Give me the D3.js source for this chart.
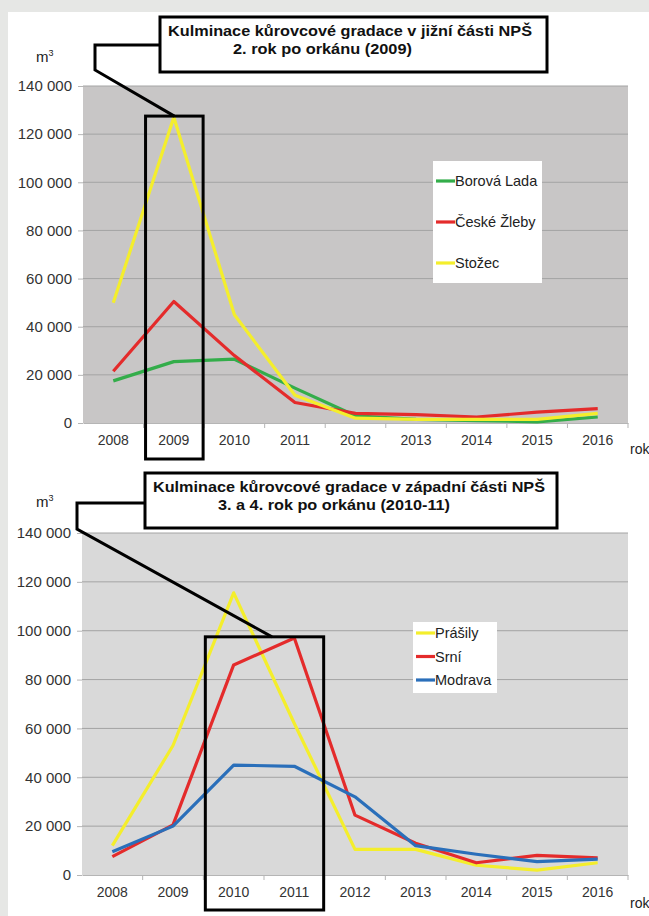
<!DOCTYPE html>
<html>
<head>
<meta charset="utf-8">
<script src="https://cdn.jsdelivr.net/npm/d3@7"></script>
<style>
  body { margin: 0; background: #e6e7e5; }
  svg { display: block; font-family: "Liberation Sans", Arial, sans-serif; }
</style>
</head>
<body>
<svg id="chart"></svg>
<script>
var svgWidth = 649;
var svgHeight = 916;

// Data
var years = ["2008", "2009", "2010", "2011", "2012", "2013", "2014", "2015", "2016"];
var yTicks = [0, 20000, 40000, 60000, 80000, 100000, 120000, 140000];

// south part
var borovaLada = [17500, 25500, 26500, 14500, 3000, 1500, 1000, 500, 2500];
var ceskeZleby = [21500, 50500, 28000, 8500, 4000, 3500, 2500, 4500, 6000];
var stozec = [50000, 127000, 45000, 11500, 2000, 1500, 1500, 1500, 4000];

// west part
var prasily = [12000, 53000, 115500, 62000, 10500, 10500, 4000, 2000, 5000];
var srni = [7500, 20500, 86000, 97000, 24500, 13000, 5000, 8000, 7000];
var modrava = [9500, 20000, 45000, 44500, 32000, 12000, 8500, 5500, 6500];

var topSeries = [
    { name: "Borová Lada", values: borovaLada, color: "#33ad4a" },
    { name: "České Žleby", values: ceskeZleby, color: "#e42b2b" },
    { name: "Stožec", values: stozec, color: "#f4ee2c" }
];
var bottomSeries = [
    { name: "Prášily", values: prasily, color: "#f4ee2c" },
    { name: "Srní", values: srni, color: "#e42b2b" },
    { name: "Modrava", values: modrava, color: "#2a6fba" }
];

var fmt = d3.formatLocale({ decimal: ",", thousands: " ", grouping: [3], currency: ["", ""] }).format(",");

var svg = d3.select("#chart")
    .attr("width", svgWidth)
    .attr("height", svgHeight);

// page background: white panel
svg.append("rect").attr("x", 0).attr("y", 0).attr("width", svgWidth).attr("height", svgHeight).attr("fill", "#e6e7e5");
svg.append("rect").attr("x", 8).attr("y", 12).attr("width", svgWidth - 8).attr("height", svgHeight - 12).attr("fill", "#ffffff");

function drawChart(cfg) {
    var x = d3.scaleBand().domain(years).range([cfg.left, cfg.right]).padding(0);
    var y = d3.scaleLinear().domain([0, 140000]).range([cfg.bottom, cfg.top]);
    var g = svg.append("g");

    // plot area
    g.append("rect")
        .attr("x", cfg.left).attr("y", cfg.top)
        .attr("width", cfg.right - cfg.left).attr("height", cfg.bottom - cfg.top)
        .attr("fill", cfg.fill);

    // gridlines
    g.selectAll(".grid").data(yTicks.slice(1)).enter().append("line")
        .attr("x1", cfg.left).attr("x2", cfg.right)
        .attr("y1", d => y(d)).attr("y2", d => y(d))
        .attr("stroke", "#a4a4a4").attr("stroke-width", 1);

    // y axis
    var leftAxis = d3.axisLeft(y).tickValues(yTicks).tickFormat(fmt).tickSize(5).tickPadding(6);
    var ya = g.append("g").attr("transform", `translate(${cfg.left}, 0)`).call(leftAxis);
    ya.select(".domain").remove();
    ya.selectAll("line").attr("stroke", "#b5b5b5");
    ya.selectAll("text").attr("font-size", "15px").attr("fill", "#333").attr("font-family", "Liberation Sans, Arial, sans-serif");

    // x axis
    var bottomAxis = d3.axisBottom(x).tickSize(0).tickPadding(12);
    var xa = g.append("g").attr("transform", `translate(0, ${cfg.bottom})`).call(bottomAxis);
    xa.select(".domain").attr("stroke", "#b5b5b5");
    xa.selectAll("text").attr("font-size", "14px").attr("fill", "#333").attr("font-family", "Liberation Sans, Arial, sans-serif");
    g.selectAll(".xtick").data(years.slice(1).concat(["end"])).enter().append("line")
        .attr("x1", (d, i) => x(years[0]) + (i + 1) * x.bandwidth())
        .attr("x2", (d, i) => x(years[0]) + (i + 1) * x.bandwidth())
        .attr("y1", cfg.bottom).attr("y2", cfg.bottom + 5)
        .attr("stroke", "#b5b5b5");

    // lines
    var line = d3.line()
        .x((d, i) => x(years[i]) + x.bandwidth() / 2)
        .y(d => y(d));
    cfg.series.forEach(function (s) {
        g.append("path")
            .attr("d", line(s.values))
            .attr("fill", "none")
            .attr("stroke", s.color)
            .attr("stroke-width", 3.2)
            .attr("stroke-linejoin", "round");
    });

    // highlight rectangle
    var hx0 = x(cfg.hl[0]) + 2;
    var hx1 = x(cfg.hl[1]) + x.bandwidth() - 1;
    g.append("rect")
        .attr("x", hx0).attr("y", y(cfg.hlTop))
        .attr("width", hx1 - hx0).attr("height", cfg.hlBottom - y(cfg.hlTop))
        .attr("fill", "none").attr("stroke", "#000").attr("stroke-width", 3);

    // callout line
    g.append("polyline")
        .attr("points", cfg.callout.map(p => p.join(",")).join(" ") + " " + cfg.calloutEnd(x, y, hx0, hx1).join(","))
        .attr("fill", "none").attr("stroke", "#000").attr("stroke-width", 3);

    // title box
    g.append("rect")
        .attr("x", cfg.box[0]).attr("y", cfg.box[1])
        .attr("width", cfg.box[2]).attr("height", cfg.box[3])
        .attr("fill", "#fff").attr("stroke", "#000").attr("stroke-width", 3);
    cfg.titles.forEach(function (t) {
        g.append("text")
            .attr("x", t.x).attr("y", t.y)
            .attr("font-size", "15px").attr("font-weight", "bold").attr("fill", "#111")
            .attr("textLength", t.w).attr("lengthAdjust", "spacingAndGlyphs")
            .text(t.text);
    });

    // m3 label
    var m = g.append("text").attr("x", 36).attr("y", cfg.mY).attr("font-size", "15px").attr("fill", "#222");
    m.append("tspan").text("m");
    m.append("tspan").attr("font-size", "9px").attr("dy", -6).text("3");

    // rok label
    g.append("text").attr("x", 630).attr("y", cfg.rokY).attr("font-size", "14px").attr("fill", "#222").text("rok");

    // legend
    var lg = g.append("g");
    lg.append("rect")
        .attr("x", cfg.legend.x).attr("y", cfg.legend.y)
        .attr("width", cfg.legend.w).attr("height", cfg.legend.h)
        .attr("fill", "#fff");
    cfg.series.forEach(function (s, i) {
        var cy = cfg.legend.y + cfg.legend.first + i * cfg.legend.step;
        lg.append("line")
            .attr("x1", cfg.legend.x + 3).attr("x2", cfg.legend.x + 22)
            .attr("y1", cy).attr("y2", cy)
            .attr("stroke", s.color).attr("stroke-width", 3.2);
        lg.append("text")
            .attr("x", cfg.legend.x + 22).attr("y", cy + 5)
            .attr("font-size", "14.5px").attr("fill", "#222")
            .text(s.name);
    });
}

drawChart({
    left: 83, right: 628, top: 86, bottom: 423,
    fill: "#c8c6c6",
    series: topSeries,
    hl: ["2009", "2009"], hlTop: 127500, hlBottom: 459,
    box: [160, 17, 387, 55],
    callout: [[160, 45], [95, 45], [95, 70]],
    calloutEnd: (x, y, a, b) => [(a + b) / 2, y(127500)],
    titles: [
        { x: 168, y: 36, w: 364, text: "Kulminace kůrovcové gradace v jižní části NPŠ" },
        { x: 233, y: 54, w: 179, text: "2. rok po orkánu (2009)" }
    ],
    mY: 62, rokY: 454,
    legend: { x: 433, y: 161, w: 109, h: 122, first: 20, step: 41 }
});

drawChart({
    left: 82, right: 628, top: 533, bottom: 875,
    fill: "#d9d9d9",
    series: bottomSeries,
    hl: ["2010", "2011"], hlTop: 97500, hlBottom: 910,
    box: [145, 473, 412, 55],
    callout: [[145, 503], [77, 503], [77, 529]],
    calloutEnd: (x, y, a, b) => [272, y(97500)],
    titles: [
        { x: 153, y: 492, w: 392, text: "Kulminace kůrovcové gradace v západní části NPŠ" },
        { x: 218, y: 510, w: 232, text: "3. a 4. rok po orkánu (2010-11)" }
    ],
    mY: 507, rokY: 908,
    legend: { x: 413, y: 622, w: 84, h: 71, first: 11, step: 23.5 }
});
</script>
</body>
</html>
